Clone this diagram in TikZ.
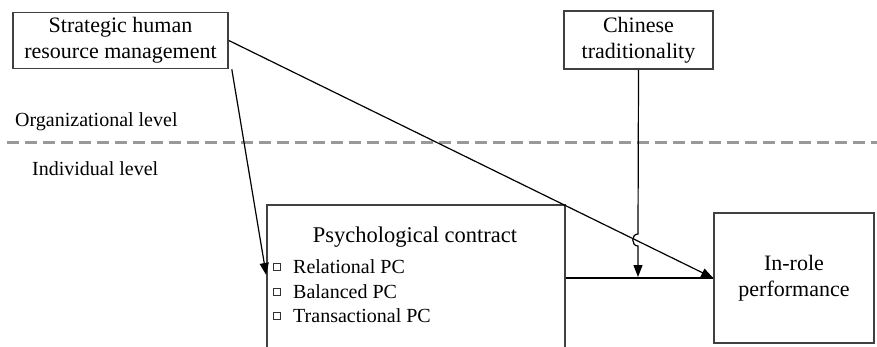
\documentclass[tikz,border=0pt]{standalone}
\usepackage{fontspec}
\setmainfont{Liberation Serif}
\usetikzlibrary{arrows.meta,calc}
\begin{document}
\begin{tikzpicture}[x=1pt,y=-1pt,
  box/.style={draw=black!75,line width=1.6pt,inner sep=0pt,align=center,font=\fontsize{22}{26}\selectfont},
  conn/.style={line width=1.2pt,black},
  arr/.style={conn,-{Triangle[length=12pt,width=9pt]}},
  lvl/.style={anchor=west,inner sep=0pt,font=\fontsize{20}{24}\selectfont},
  item/.style={anchor=west,inner sep=0pt,font=\fontsize{20}{24}\selectfont},
  chk/.style={draw=black!80,line width=0.8pt,minimum size=7pt,inner sep=0pt}]
\useasboundingbox (0,0) rectangle (877,347);
\clip (0,0) rectangle (877,347);
\fill[white] (0,0) rectangle (877,347);
% boxes
\node[box,minimum width=215pt,minimum height=56pt] (shrm) at (120.5,40.5) {Strategic human\\resource management};
\node[box,minimum width=149pt,minimum height=58pt] (chin) at (638.5,40) {Chinese\\traditionality};
\node[box,minimum width=160pt,minimum height=130pt] (perf) at (794,278) {In-role\\performance};
\node[draw=black!75,line width=1.6pt,minimum width=298pt,minimum height=160pt,inner sep=0pt] (pc) at (416,285) {};
\node[inner sep=0pt,font=\fontsize{22.5}{26}\selectfont] (pct) at (415,237) {Psychological contract};
\node[chk] (c1) at (276.5,267) {};
\node[chk] (c2) at (276.5,292) {};
\node[chk] (c3) at (276.5,316) {};
\node[item] (i1) at (293,267) {Relational PC};
\node[item] (i2) at (293,292) {Balanced PC};
\node[item] (i3) at (293,316) {Transactional PC};
% levels
\node[lvl] (org) at (15,122) {Organizational level};
\node[lvl] (ind) at (32,169) {Individual level};
\coordinate (dl) at (7,143);
\coordinate (dr) at (877,143);
\draw[gray!80,line width=3pt,dash pattern=on 12pt off 6pt] (dl) -- (dr);
% connectors
\coordinate (pcR) at (pc.east |- perf.west);
\coordinate (shrmB) at ($(shrm.south east)+(3,0)$);
\coordinate (pcL) at (pc.west |- 0,275);
\draw[arr] (shrmB) -- (pcL);
\draw[arr] (shrm.east) -- (perf.west);
\draw[conn] (pcR) -- (perf.west);
\coordinate (hopA) at (638,234);
\coordinate (hopB) at (638,246);
\coordinate (mod) at (638,277);
\draw[arr] (chin.south) -- (hopA) .. controls (631,234) and (631,246) .. (hopB) -- (mod);
\end{tikzpicture}
\end{document}
